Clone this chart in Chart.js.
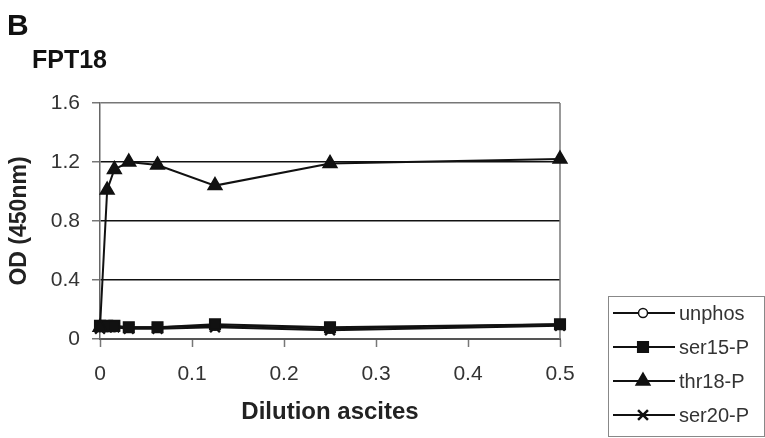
<!DOCTYPE html>
<html>
<head>
<meta charset="utf-8">
<script src="https://cdn.jsdelivr.net/npm/chart.js@4.4.1/dist/chart.umd.min.js"></script>
<style>
  html, body { margin: 0; padding: 0; background: #fff; }
  #wrap { position: relative; width: 765px; height: 438px; }
</style>
</head>
<body>
<div id="wrap"><canvas id="odChart" width="765" height="438"></canvas></div>
<script>
// dilution of ascites (x) and OD readings per peptide
const dilutions = [0, 0.0078, 0.0156, 0.0313, 0.0625, 0.125, 0.25, 0.5];
const unphos = [0.08, 0.08, 0.08, 0.08, 0.08, 0.09, 0.07, 0.10];
const ser15P = [0.09, 0.09, 0.09, 0.08, 0.08, 0.10, 0.08, 0.10];
const thr18P = [0.08, 1.01, 1.15, 1.20, 1.18, 1.04, 1.19, 1.22];
const ser20P = [0.07, 0.08, 0.08, 0.07, 0.07, 0.08, 0.06, 0.09];

const seriesNames = ['unphos', 'ser15-P', 'thr18-P', 'ser20-P'];
const xTicks = [0, 0.1, 0.2, 0.3, 0.4, 0.5];
const yTicks = [0, 0.4, 0.8, 1.2, 1.6];

const FONT = "'Liberation Sans', Arial, sans-serif";

const toPoints = vals => vals.map((v, i) => ({ x: dilutions[i], y: v }));

function makeSet(label, vals, style, radius, fill, order) {
    return {
        label,
        data: toPoints(vals),
        order,
        clip: false,
        borderColor: '#111',
        borderWidth: 2,
        pointStyle: style,
        pointRadius: radius,
        pointBorderWidth: style === 'crossRot' ? 2.5 : 1.5,
        pointBackgroundColor: fill,
        pointBorderColor: '#111',
        tension: 0
    };
}

// frame + hand made legend (line through marker like the original)
const framePlugin = {
    id: 'frame',
    beforeDatasetsDraw(chart) {
        const { ctx, chartArea: a } = chart;
        ctx.save();
        ctx.strokeStyle = '#777';
        ctx.lineWidth = 1.5;
        ctx.beginPath();
        ctx.moveTo(a.right, a.top);
        ctx.lineTo(a.right, a.bottom);
        ctx.stroke();
        ctx.restore();
    },
    afterDraw(chart) {
        const { ctx } = chart;
        ctx.save();
        ctx.fillStyle = '#111';
        ctx.textBaseline = 'alphabetic';
        ctx.font = `bold 30px ${FONT}`;
        ctx.fillText('B', 7, 35);
        ctx.font = `bold 25px ${FONT}`;
        ctx.fillText('FPT18', 32, 68);

        ctx.strokeStyle = '#888';
        ctx.lineWidth = 1;
        ctx.strokeRect(608.5, 296.5, 156, 140);

        chart.data.datasets.forEach((ds, i) => {
            const y = 313 + i * 34;
            ctx.strokeStyle = '#111';
            ctx.lineWidth = 2;
            ctx.beginPath();
            ctx.moveTo(613, y);
            ctx.lineTo(675, y);
            ctx.stroke();
            ctx.fillStyle = ds.pointBackgroundColor;
            ctx.lineWidth = ds.pointBorderWidth;
            Chart.helpers.drawPoint(ctx, { pointStyle: ds.pointStyle, radius: ds.pointRadius, borderWidth: ds.pointBorderWidth }, 643, y);
            ctx.fillStyle = '#333';
            ctx.font = `20px ${FONT}`;
            ctx.textBaseline = 'middle';
            ctx.fillText(ds.label, 679, y + 1);
        });
        ctx.restore();
    }
};

new Chart(document.getElementById('odChart'), {
    type: 'line',
    data: {
        datasets: [
            makeSet(seriesNames[0], unphos, 'circle', 4.5, '#fff', 4),
            makeSet(seriesNames[1], ser15P, 'rect', 7.5, '#111', 2),
            makeSet(seriesNames[2], thr18P, 'triangle', 8, '#111', 1),
            makeSet(seriesNames[3], ser20P, 'crossRot', 7, '#111', 3)
        ]
    },
    options: {
        responsive: false,
        devicePixelRatio: 1,
        animation: false,
        layout: { padding: { left: 0, top: 103, right: 205, bottom: 0 } },
        plugins: {
            legend: { display: false },
            tooltip: { enabled: false }
        },
        scales: {
            x: {
                type: 'linear',
                min: 0,
                max: 0.5,
                afterBuildTicks: s => { s.ticks = xTicks.map(v => ({ value: v })); },
                afterFit: s => { s.height = 99; },
                ticks: {
                    color: '#333',
                    padding: 15,
                    font: { family: FONT, size: 21 },
                    callback: v => String(v)
                },
                grid: { drawOnChartArea: false, tickLength: 8, tickColor: '#777', tickWidth: 1.5 },
                border: { color: '#555', width: 2 },
                title: {
                    display: true,
                    text: 'Dilution ascites',
                    color: '#222',
                    font: { family: FONT, size: 24, weight: 'bold' },
                    padding: { top: 0, bottom: 11 }
                }
            },
            y: {
                type: 'linear',
                min: 0,
                max: 1.6,
                afterBuildTicks: s => { s.ticks = yTicks.map(v => ({ value: v })); },
                afterFit: s => { s.width = 100; },
                ticks: {
                    color: '#333',
                    padding: 12,
                    font: { family: FONT, size: 21 },
                    callback: v => String(v)
                },
                grid: {
                    tickLength: 8,
                    tickColor: '#777',
                    lineWidth: 1.5,
                    color: c => c.tick.value === 0 ? 'rgba(0,0,0,0)' : (c.tick.value === 1.6 ? '#777' : '#111')
                },
                border: { color: '#666', width: 1.5 },
                title: {
                    display: true,
                    text: 'OD (450nm)',
                    color: '#222',
                    font: { family: FONT, size: 23, weight: 'bold' },
                    padding: { top: 6, bottom: 0 }
                }
            }
        }
    },
    plugins: [framePlugin]
});
</script>
</body>
</html>
